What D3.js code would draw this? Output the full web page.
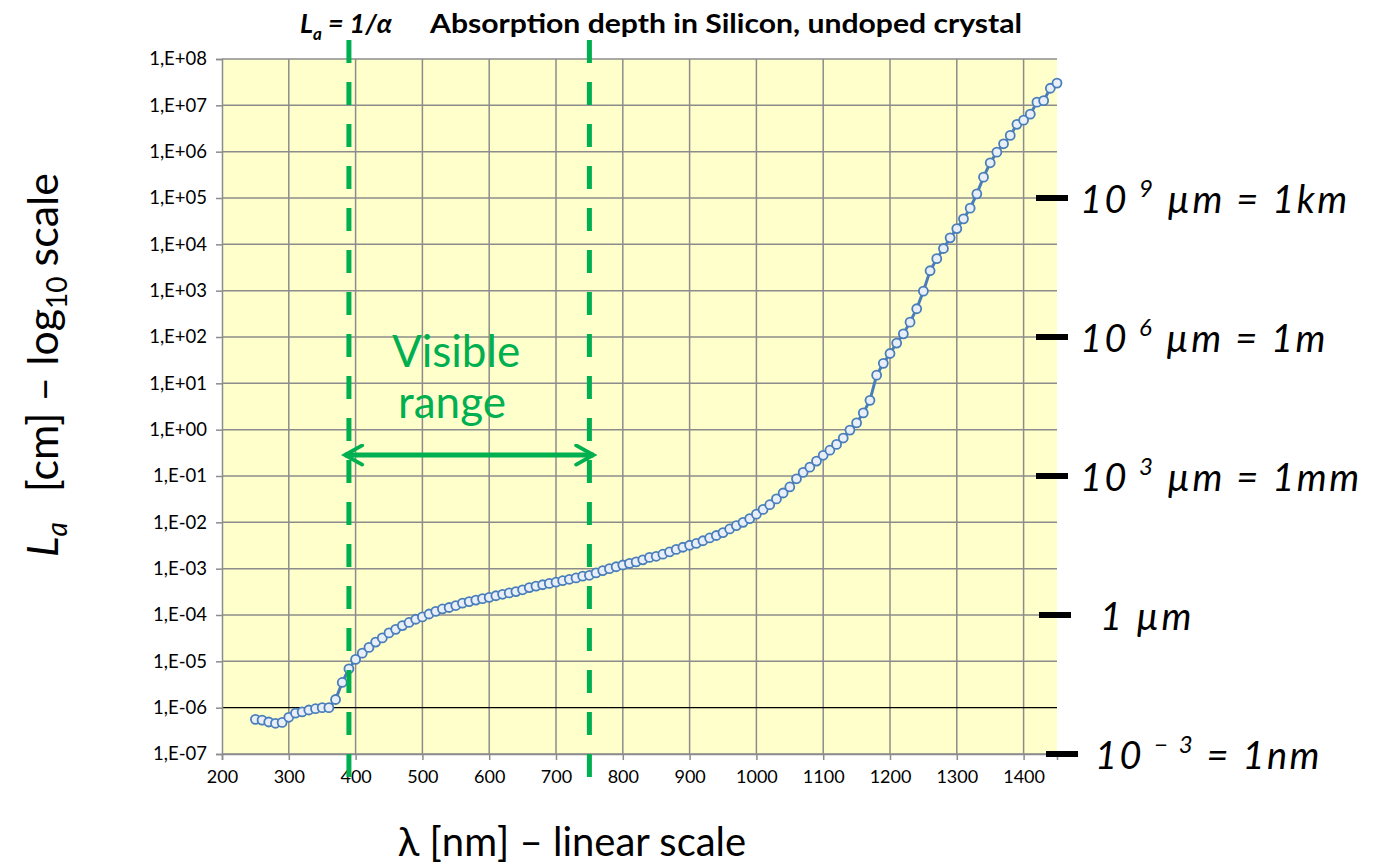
<!DOCTYPE html>
<html>
<head>
<meta charset="utf-8">
<script src="https://d3js.org/d3.v7.min.js"></script>
<style>
  body { margin: 0; background: #fff; }
  text { font-family: Lato, "Noto Sans", sans-serif; }
</style>
</head>
<body>
<div id="chart"></div>
<script>
// wavelength [nm]
var wavelengths = [250,260,270,280,290,300,310,320,330,340,350,360,370,380,390,400,410,420,430,440,
  450,460,470,480,490,500,510,520,530,540,550,560,570,580,590,600,610,620,630,640,
  650,660,670,680,690,700,710,720,730,740,750,760,770,780,790,800,810,820,830,840,
  850,860,870,880,890,900,910,920,930,940,950,960,970,980,990,1000,1010,1020,1030,1040,
  1050,1060,1070,1080,1090,1100,1110,1120,1130,1140,1150,1160,1170,1180,1190,1200,1210,1220,1230,1240,
  1250,1260,1270,1280,1290,1300,1310,1320,1330,1340,1350,1360,1370,1380,1390,1400,1410,1420,1430,1440,1450];

// absorption depth La [cm]
var depths = [5.6e-7,5.4e-7,4.9e-7,4.6e-7,4.8e-7,6.2e-7,7.6e-7,8.1e-7,8.9e-7,9.5e-7,1.0e-6,1.0e-6,1.5e-6,3.5e-6,6.9e-6,1.1e-5,1.5e-5,2.0e-5,2.6e-5,3.2e-5,
  4.1e-5,4.9e-5,5.9e-5,6.9e-5,8.1e-5,9.1e-5,1.05e-4,1.2e-4,1.35e-4,1.45e-4,1.6e-4,1.8e-4,1.95e-4,2.1e-4,2.25e-4,2.4e-4,2.6e-4,2.8e-4,3.0e-4,3.2e-4,
  3.5e-4,3.9e-4,4.2e-4,4.5e-4,4.8e-4,5.1e-4,5.5e-4,5.9e-4,6.3e-4,6.9e-4,7.2e-4,8.1e-4,9.1e-4,1.0e-3,1.1e-3,1.2e-3,1.3e-3,1.4e-3,1.55e-3,1.75e-3,
  1.85e-3,2.05e-3,2.3e-3,2.6e-3,2.9e-3,3.2e-3,3.5e-3,4.0e-3,4.6e-3,5.2e-3,6.0e-3,7.2e-3,8.5e-3,1.0e-2,1.2e-2,1.5e-2,1.9e-2,2.4e-2,3.2e-2,4.3e-2,
  5.8e-2,8.7e-2,0.12,0.155,0.21,0.28,0.36,0.48,0.66,0.98,1.4,2.3,4.3,15,27,44,74,117,209,407,
  977,2690,4900,8130,13800,21900,35500,60300,123000,282000,575000,977000,1.48e6,2.24e6,3.89e6,4.79e6,6.46e6,1.17e7,1.26e7,2.34e7,3.02e7];

var xTicks = [200,300,400,500,600,700,800,900,1000,1100,1200,1300,1400];
var yTicks = [1e8,1e7,1e6,1e5,1e4,1e3,1e2,1e1,1e0,1e-1,1e-2,1e-3,1e-4,1e-5,1e-6,1e-7];
var visibleRange = [390, 750];

// right hand scale notes: value in cm and label pieces
var noteValues = [1e5, 1e2, 1e-1, 1e-4, 1e-7];
var noteBase = ["10", "10", "10", "1 µm", "10"];
var noteExp = ["9", "6", "3", "", "\u2212 3"];
var noteRest = [" µm = 1km", " µm = 1m", " µm = 1mm", "", " = 1nm"];

var width = 1377, height = 864;
var plotLeft = 222, plotRight = 1057, plotTop = 59, plotBottom = 754;
var green = "#00B050", blue = "#4A7EBB";

var x = d3.scaleLinear().domain([200, 1450]).range([plotLeft, plotRight]);
var y = d3.scaleLog().domain([1e-7, 1e8]).range([plotBottom, plotTop]);

var svg = d3.select("#chart").append("svg")
  .attr("width", width)
  .attr("height", height);

svg.append("rect")
  .attr("x", plotLeft).attr("y", plotTop)
  .attr("width", plotRight - plotLeft).attr("height", plotBottom - plotTop)
  .attr("fill", "#FFFFCC");

// grid
svg.append("g").selectAll("line")
  .data(xTicks.slice(1)).enter().append("line")
  .attr("x1", function (d) { return x(d); }).attr("x2", function (d) { return x(d); })
  .attr("y1", plotTop).attr("y2", plotBottom)
  .attr("stroke", "#8C8C8C").attr("stroke-width", 1.5);

svg.append("g").selectAll("line")
  .data(yTicks).enter().append("line")
  .attr("x1", plotLeft).attr("x2", plotRight)
  .attr("y1", function (d) { return y(d); }).attr("y2", function (d) { return y(d); })
  .attr("stroke", function (d) { return d === 1e-6 ? "#000" : "#8C8C8C"; })
  .attr("stroke-width", function (d) { return d === 1e-6 ? 1.2 : 1.5; });

// axes
function expLabel(d) {
  var e = Math.round(Math.log10(d));
  return "1,E" + (e < 0 ? "-" : "+") + d3.format("02d")(Math.abs(e));
}

var yAxis = svg.append("g")
  .attr("transform", "translate(" + plotLeft + ",0)")
  .call(d3.axisLeft(y).tickValues(yTicks).tickFormat(expLabel).tickSize(6).tickPadding(9));
var xAxis = svg.append("g")
  .attr("transform", "translate(0," + plotBottom + ")")
  .call(d3.axisBottom(x).tickValues(xTicks).tickFormat(d3.format("d")).tickSize(6).tickPadding(10));

[yAxis, xAxis].forEach(function (a) {
  a.attr("font-size", null).attr("font-family", null);
  a.select(".domain").attr("stroke", "#8C8C8C").attr("stroke-width", 1.5);
  a.selectAll(".tick line").attr("stroke", "#8C8C8C").attr("stroke-width", 1.5);
  a.selectAll(".tick text").attr("fill", "#000")
    .style("font-family", "Lato, 'Noto Sans', sans-serif");
});
yAxis.selectAll(".tick text").style("font-size", "18.5px");
xAxis.selectAll(".tick text").style("font-size", "18px");

// series
var points = wavelengths.map(function (w, i) { return [w, depths[i]]; });

svg.append("path")
  .datum(points)
  .attr("fill", "none")
  .attr("stroke", blue)
  .attr("stroke-width", 3)
  .attr("d", d3.line().x(function (d) { return x(d[0]); }).y(function (d) { return y(d[1]); }));

svg.append("g").selectAll("circle")
  .data(points).enter().append("circle")
  .attr("cx", function (d) { return x(d[0]); })
  .attr("cy", function (d) { return y(d[1]); })
  .attr("r", 4.5)
  .attr("fill", "#E8EFF8")
  .attr("stroke", blue)
  .attr("stroke-width", 1.8);

// visible range markers
svg.append("g").selectAll("line")
  .data(visibleRange).enter().append("line")
  .attr("x1", function (d) { return x(d); }).attr("x2", function (d) { return x(d); })
  .attr("y1", 40).attr("y2", 792)
  .attr("stroke", green).attr("stroke-width", 5)
  .attr("stroke-dasharray", "23,19");

var defs = svg.append("defs");
defs.append("marker")
  .attr("id", "arrowhead")
  .attr("viewBox", "0 0 12 12")
  .attr("refX", 10).attr("refY", 6)
  .attr("markerWidth", 4.6).attr("markerHeight", 4.6)
  .attr("markerUnits", "strokeWidth")
  .attr("orient", "auto-start-reverse")
  .append("path")
  .attr("d", "M1,1 L10,6 L1,11")
  .attr("fill", "none").attr("stroke", green).attr("stroke-width", 2).attr("stroke-linecap", "round");

svg.append("line")
  .attr("x1", x(visibleRange[0]) - 4).attr("x2", x(visibleRange[1]) + 4)
  .attr("y1", 455).attr("y2", 455)
  .attr("stroke", green).attr("stroke-width", 5)
  .attr("marker-start", "url(#arrowhead)")
  .attr("marker-end", "url(#arrowhead)");

var vis = svg.append("text")
  .attr("text-anchor", "middle")
  .attr("fill", green).attr("font-size", 44);
vis.append("tspan").attr("x", 456).attr("y", 367).text("Visible");
vis.append("tspan").attr("x", 452).attr("y", 418).text("range");

// title
var title = svg.append("text")
  .attr("x", 300).attr("y", 33)
  .attr("font-size", 27).attr("font-weight", "bold");
title.append("tspan").attr("font-style", "italic").text("L");
title.append("tspan").attr("font-style", "italic").attr("font-size", 17).attr("dy", 7).text("a");
title.append("tspan").attr("font-style", "italic").attr("dy", -7).attr("dx", 6).text("= 1/α");
title.append("tspan").attr("x", 430).attr("textLength", 592).attr("lengthAdjust", "spacingAndGlyphs")
  .text("Absorption depth in Silicon, undoped crystal");

// right hand notes
var notes = svg.append("g").selectAll("g")
  .data(noteValues).enter().append("g")
  .attr("transform", function (d) { return "translate(0," + y(d) + ")"; });

notes.append("line")
  .attr("x1", function (d, i) { return 1036 + (i === 3 ? 3 : i === 4 ? 10 : 0); })
  .attr("x2", function (d, i) { return 1068 + (i === 3 ? 3 : i === 4 ? 10 : 0); })
  .attr("stroke", "#000").attr("stroke-width", 6);

var noteText = notes.append("text")
  .attr("x", function (d, i) { return i === 3 ? 1100 : i === 4 ? 1095 : 1080; })
  .attr("y", 15)
  .attr("font-size", 38).attr("font-style", "italic").attr("letter-spacing", 2.5);
noteText.append("tspan").text(function (d, i) { return noteBase[i]; });
noteText.append("tspan")
  .attr("font-size", 24).attr("dy", -16).attr("dx", 10)
  .text(function (d, i) { return noteExp[i]; });
noteText.append("tspan")
  .attr("dy", 16)
  .text(function (d, i) { return noteRest[i]; });

// axis titles
var yTitle = svg.append("text")
  .attr("transform", "translate(58,365) rotate(-90)")
  .attr("text-anchor", "middle")
  .attr("font-size", 43);
yTitle.append("tspan").attr("font-style", "italic").text("L");
yTitle.append("tspan").attr("font-style", "italic").attr("font-size", 28).attr("dy", 9).text("a");
yTitle.append("tspan").attr("dy", -9).attr("dx", 30).text("[cm] – log");
yTitle.append("tspan").attr("font-size", 28).attr("dy", 9).text("10");
yTitle.append("tspan").attr("dy", -9).attr("dx", 10).text("scale");

svg.append("text")
  .attr("x", 572).attr("y", 856)
  .attr("text-anchor", "middle")
  .attr("font-size", 40)
  .text("λ [nm] – linear scale");
</script>
</body>
</html>
